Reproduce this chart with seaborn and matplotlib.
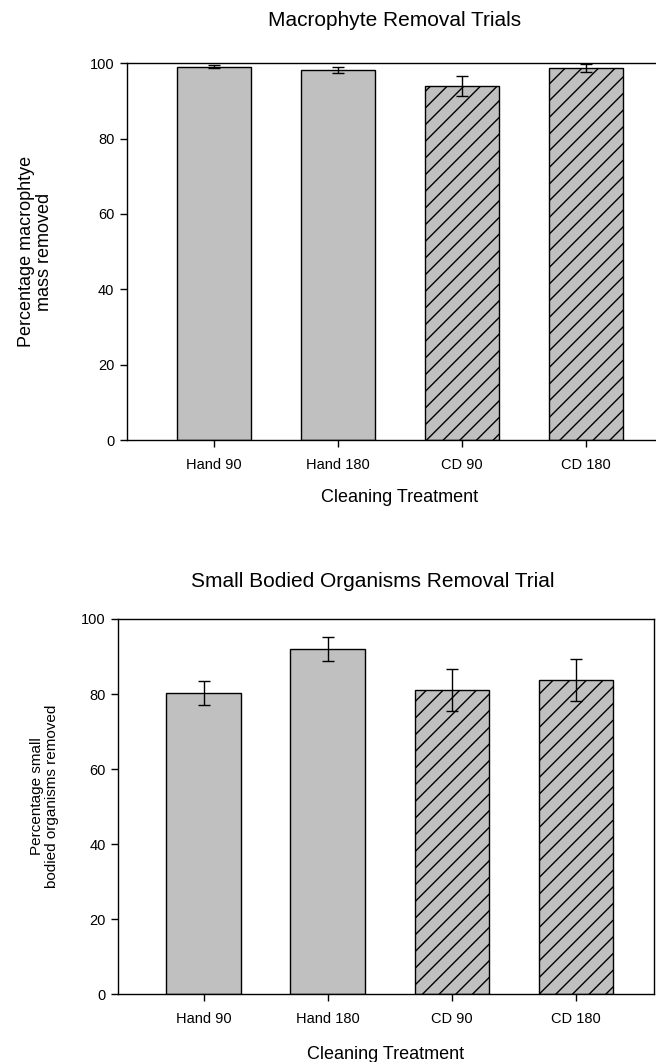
import matplotlib
matplotlib.use("Agg")
import matplotlib.pyplot as plt
import seaborn as sns
import pandas as pd

categories = ["Hand 90", "Hand 180", "CD 90", "CD 180"]
macro_values = [99.1, 98.3, 94.0, 98.7]
macro_errors = [0.4, 0.8, 2.7, 1.1]
small_values = [80.4, 92.0, 81.2, 83.7]
small_errors = [3.2, 3.1, 5.6, 5.6]
hatched = [False, False, True, True]
yticks = [0, 20, 40, 60, 80, 100]

sns.set_theme(style="ticks")
plt.rcParams['font.family'] = ['Liberation Sans', 'DejaVu Sans']
plt.rcParams['hatch.linewidth'] = 1.0
plt.rcParams['hatch.color'] = 'black'
plt.rcParams['text.color'] = 'black'
plt.rcParams['axes.labelcolor'] = 'black'
plt.rcParams['xtick.color'] = 'black'
plt.rcParams['ytick.color'] = 'black'

fig = plt.figure(figsize=(6.56, 10.62), dpi=100)
W, H = 656.0, 1062.0

def make_axes(left, right, top, bottom):
    return fig.add_axes([left / W, 1 - bottom / H, (right - left) / W, (bottom - top) / H])

ax1 = make_axes(127, 673, 63.3, 440)
ax2 = make_axes(118, 654, 619, 994.3)

def draw(ax, values, errors, xlim, xlabelpad):
    df = pd.DataFrame({"cat": categories, "val": values})
    sns.barplot(data=df, x="cat", y="val", color="#c0c0c0", saturation=1,
                edgecolor="black", linewidth=1.0, width=0.6, ax=ax)
    for p, h in zip(ax.patches, hatched):
        p.set_facecolor("#c0c0c0")
        if h:
            p.set_hatch("//")
    ax.errorbar(x=list(range(len(categories))), y=values, yerr=errors,
                fmt="none", ecolor="black", elinewidth=1.0, capsize=4, capthick=1.0)
    ax.set_ylim(0, 100)
    ax.set_xlim(*xlim)
    ax.set_yticks(yticks)
    ax.set_xlabel("Cleaning Treatment", fontsize=13, labelpad=xlabelpad)
    ax.tick_params(axis="both", direction="out", length=5, width=1, colors="black",
                   labelsize=10.5)
    ax.tick_params(axis="x", pad=8)
    ax.tick_params(axis="y", pad=4)
    for s in ax.spines.values():
        s.set_color("black")
        s.set_linewidth(1.0)

draw(ax1, macro_values, macro_errors, (-0.70, 3.70), 12)
ax1.spines["right"].set_visible(False)
draw(ax2, small_values, small_errors, (-0.69, 3.63), 14)

ax1.set_ylabel("Percentage macrophtye\nmass removed", fontsize=13, linespacing=1.05)
ax1.yaxis.set_label_coords((53 - 127) / 546, 0.5)
ax2.set_ylabel("Percentage small\nbodied organisms removed", fontsize=11, linespacing=1.05)
ax2.yaxis.set_label_coords((59 - 118) / 536, (994.3 - 796) / 375.3)

ax1.set_title("Macrophyte Removal Trials", fontsize=15, pad=27, x=(395 - 127) / 546)
ax2.set_title("Small Bodied Organisms Removal Trial", fontsize=15, pad=23, x=(373 - 118) / 536)

fig.savefig("out.png", dpi=100)
